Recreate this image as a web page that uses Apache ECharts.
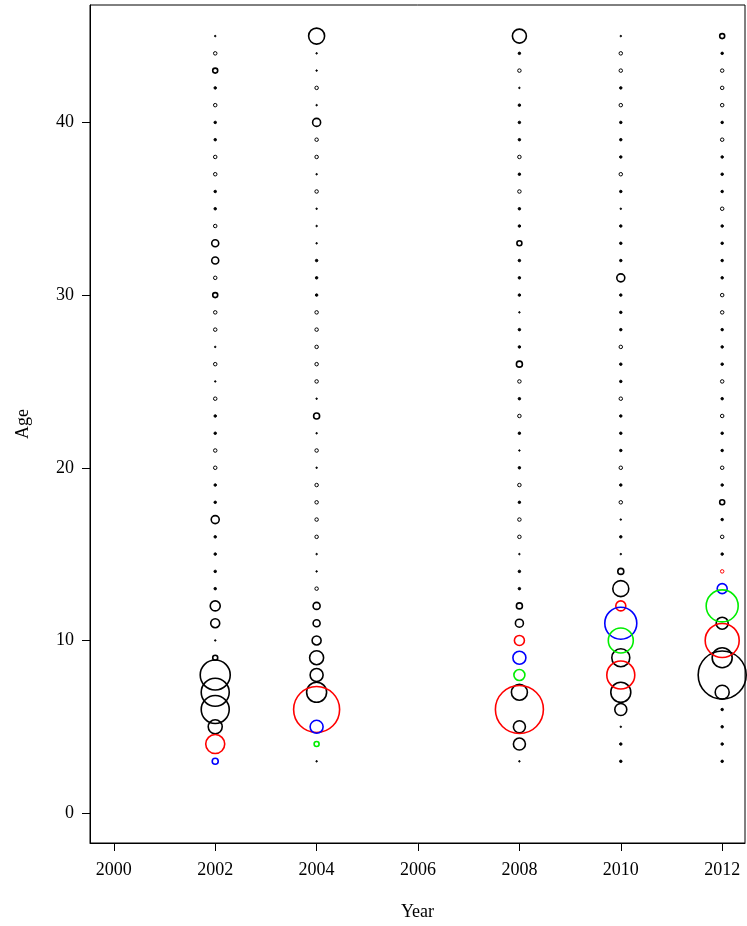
<!DOCTYPE html>
<html><head><meta charset="utf-8">
<script src="https://cdn.jsdelivr.net/npm/echarts@6/dist/echarts.min.js"></script>
<style>html,body{margin:0;padding:0;background:#fff}#c{width:747px;height:926px}</style>
</head><body><div id="c"></div>
<script>
const years=[2002,2004,2008,2010,2012];
const ages=[3,4,5,6,7,8,9,10,11,12,13,14,15,16,17,18,19,20,21,22,23,24,25,26,27,28,29,30,31,32,33,34,35,36,37,38,39,40,41,42,43,44,45];
const black2002=[0,0,14,28,28,30,5,2,9,10,3,3,3,3,8,3,3,4,4,3,3,4,2,4,2,4,4,5,4,7,7,4,3,3,4,4,3,3,4,3,5,4,2];
const black2004=[2,0,0,0,20,13,14,9,7,7,4,2,2,4,4,4,4,2,4,2,6,2,4,4,4,4,4,3,3,3,2,2,2,4,2,4,4,8,2,4,2,2,16];
const black2008=[2,12,12,0,16,0,0,0,8,6,3,3,2,4,4,3,4,3,2,3,4,3,4,6,3,3,2,3,3,3,5,3,3,4,3,4,3,3,3,2,4,3,14];
const black2010=[3,3,2,12,20,0,18,0,0,0,16,6,2,3,2,4,3,4,3,3,3,4,3,3,4,3,3,3,8,3,3,3,2,3,4,3,3,3,4,3,4,4,2];
const black2012=[3,3,3,3,14,48,20,0,12,0,0,0,3,4,3,5,3,4,3,3,4,3,4,3,3,3,4,4,3,3,3,3,4,3,3,3,4,3,4,4,4,3,5];
const redPts=[[2002,4,19],[2004,6,46],[2008,10,10],[2008,6,48],[2010,12,10],[2010,8,28],[2012,14,4],[2012,10,34]];
const bluePts=[[2002,3,6],[2004,5,13],[2008,9,13],[2010,11,32],[2012,13,10]];
const greenPts=[[2004,4,5],[2008,8,11],[2010,10,25],[2012,12,32]];
const xTicks=[2000,2002,2004,2006,2008,2010,2012];
const yTicks=[0,10,20,30,40];

const blackSets=[black2002,black2004,black2008,black2010,black2012];
const blackPts=[];
years.forEach((y,i)=>ages.forEach((a,j)=>{if(blackSets[i][j]>0)blackPts.push([y,a,blackSets[i][j]]);}));
function ser(data,col){
  return {type:'scatter',data:data.map(d=>({value:d,symbolSize:d[2]<=4?d[2]-0.5:d[2],
      itemStyle:{borderWidth:d[2]<=4?1:1.6,color:d[2]<=3?col:'rgba(0,0,0,0)'}})),
    itemStyle:{borderColor:col,opacity:1},
    emphasis:{disabled:true},animation:false};
}
const font='"Liberation Serif","DejaVu Serif",serif';
const chart=echarts.init(document.getElementById('c'));
chart.setOption({
  animation:false,
  grid:{left:90,right:2,top:5,bottom:81,show:true,borderColor:'#000',borderWidth:1},
  xAxis:{type:'value',min:1999.53,max:2012.45,name:'Year',nameLocation:'middle',nameGap:60,
    nameTextStyle:{fontFamily:font,fontSize:18,color:'#000'},
    splitLine:{show:false},axisLine:{show:true,onZero:false,lineStyle:{color:'#000'}},
    axisTick:{show:true,customValues:xTicks,length:8,inside:false,lineStyle:{color:'#000'}},
    axisLabel:{customValues:xTicks,formatter:v=>String(v),fontFamily:font,fontSize:18,color:'#000',margin:18}},
  yAxis:{type:'value',min:-1.73,max:46.8,name:'Age',nameLocation:'middle',nameGap:58,nameRotate:90,
    nameTextStyle:{fontFamily:font,fontSize:18,color:'#000'},
    splitLine:{show:false},axisLine:{show:true,onZero:false,lineStyle:{color:'#000'}},
    axisTick:{show:true,customValues:yTicks,length:8,lineStyle:{color:'#000'}},
    axisLabel:{customValues:yTicks,formatter:v=>String(v),fontFamily:font,fontSize:18,color:'#000',margin:16}},
  series:[ser(blackPts,'#000'),ser(redPts,'#ff0000'),ser(bluePts,'#0000ff'),ser(greenPts,'#00ee00')]
});
</script></body></html>
